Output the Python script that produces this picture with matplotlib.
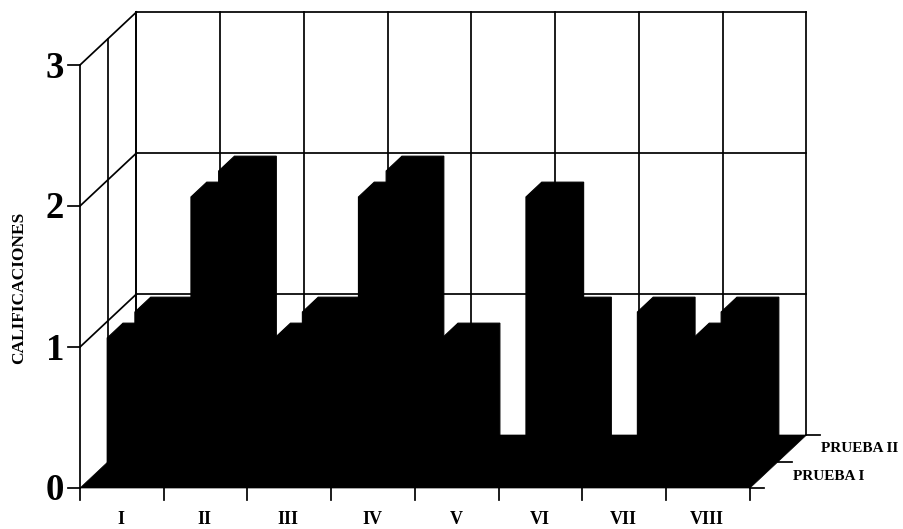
import matplotlib
matplotlib.use("Agg")
import matplotlib.pyplot as plt
from matplotlib.patches import Polygon

categories = ["I", "II", "III", "IV", "V", "VI", "VII", "VIII"]
prueba_1 = [1, 2, 1, 2, 1, 2, 0, 1]
prueba_2 = [1, 2, 1, 2, 0, 1, 1, 1]
series_names = ["PRUEBA I", "PRUEBA II"]
z_ticks = [0, 1, 2, 3]

# oblique projection of the chart box, in pixels
X0, Y0 = 80.0, 488.0
CAT_W = 83.75
Z_H = 141.0
DX, DY = 56.5, 53.0
BAR_OFF, BAR_W = 0.21, 0.50
ROW_START = [0.17, 0.66]
ROW_DEPTH = 0.28
FAM = ["Liberation Serif", "DejaVu Serif"]


def P(x, d, z):
    return (X0 + x * CAT_W + d * DX, Y0 - d * DY - z * Z_H)


fig = plt.figure(figsize=(9.04, 5.29), dpi=100)
ax = fig.add_axes([0, 0, 1, 1])
ax.set_xlim(0, 904)
ax.set_ylim(529, 0)
ax.axis("off")

LW = 1.25
n = len(categories)
zmax = z_ticks[-1]


def line(a, b, lw=LW):
    ax.plot([a[0], b[0]], [a[1], b[1]], color="black", lw=lw, solid_capstyle="projecting", zorder=1)


# walls
for z in z_ticks[1:]:
    line(P(0, 0, z), P(0, 1, z))
    line(P(0, 1, z), P(n, 1, z))
for i in range(n + 1):
    line(P(i, 1, 0), P(i, 1, zmax))
for d in (0, 0.5, 1):
    line(P(0, d, 0), P(0, d, zmax))

# floor
ax.add_patch(Polygon([P(0, 0, 0), P(n, 0, 0), P(n, 1, 0), P(0, 1, 0)], closed=True,
                     facecolor="black", edgecolor="black", lw=0.5, zorder=2))


# bars
def bar(i, row, v):
    if v <= 0:
        return
    l, r = i + BAR_OFF, i + BAR_OFF + BAR_W
    d0, d1 = ROW_START[row], ROW_START[row] + ROW_DEPTH
    outline = [P(l, d0, 0), P(l, d0, v), P(l, d1, v), P(r, d1, v), P(r, d1, 0), P(r, d0, 0)]
    ax.add_patch(Polygon(outline, closed=True, facecolor="black", edgecolor="black", lw=0.8, zorder=3))


for row, vals in [(1, prueba_2), (0, prueba_1)]:
    for i, v in enumerate(vals):
        bar(i, row, v)

# ticks: categories
for i in range(n + 1):
    a = P(i, 0, 0)
    line(a, (a[0], a[1] + 12))
for i, c in enumerate(categories):
    a = P(i + 0.5, 0, 0)
    ax.text(a[0] - 1, 519, c, ha="center", va="center", family=FAM, weight="bold", fontsize=13)

# ticks: values
for z in z_ticks:
    a = P(0, 0, z)
    line((a[0] - 12, a[1]), a)
    ax.text(55, a[1] + 3, str(z), ha="center", va="center", family=FAM, weight="bold", fontsize=26.5)

# ticks: depth
for d in (0, 0.5, 1):
    a = P(n, d, 0)
    line(a, (a[0] + 14, a[1]))
ax.text(793, 476.5, series_names[0], ha="left", va="center", family=FAM, weight="bold", fontsize=11)
ax.text(821, 448, series_names[1], ha="left", va="center", family=FAM, weight="bold", fontsize=11)

ax.text(19, 288, "CALIFICACIONES", rotation=90, ha="center", va="center", family=FAM, weight="bold", fontsize=12.5)

fig.savefig("out.png", dpi=100)
